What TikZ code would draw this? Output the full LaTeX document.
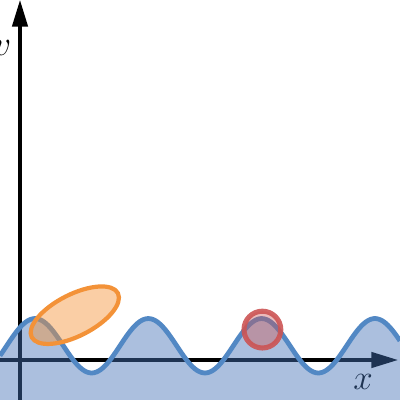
\documentclass[tikz,border=0pt]{standalone}
\usepackage{tikz}
\usetikzlibrary{arrows.meta}
\definecolor{azul}{RGB}{82,136,196}
\definecolor{azulfondo}{RGB}{68,114,182}
\definecolor{naranja}{RGB}{243,146,56}
\definecolor{rojo}{RGB}{204,84,84}

\begin{document}
\begin{tikzpicture}
  \useasboundingbox (-0.5,-1) rectangle (9.5,9);

  % Ejes
  \draw[line width=2.2pt,-{Triangle[length=19pt,width=11pt]}] (0,-1) -- (0,9);
  \draw[line width=2.2pt,-{Triangle[length=19pt,width=11pt]}] (-0.5,0) -- (9.45,0);

  % Etiquetas
  \node (ejev) at (-0.44,7.81) {\fontsize{25}{25}\selectfont$v$};
  \node (ejex) at (8.575,-0.55) {\fontsize{33}{33}\selectfont$x$};

  % Onda
  \fill[azulfondo,fill opacity=0.45] (-0.5,-1) -- plot[domain=-0.5:9.5,samples=200,smooth] (\x,{0.356+0.68*cos(360*(\x-0.375)/2.833)}) -- (9.5,-1) -- cycle;
  \draw[azul,line width=3.4pt] plot[domain=-0.5:9.5,samples=200,smooth] (\x,{0.356+0.68*cos(360*(\x-0.375)/2.833)});

  % Elipse
  \draw[naranja,line width=3pt,fill=naranja,fill opacity=0.45,rotate around={27:(1.37,1.12)}] (1.37,1.12) ellipse (1.21 and 0.52);

  % Circulo
  \draw[rojo,line width=3.6pt,draw opacity=0.9,fill=rojo,fill opacity=0.4] (6.06,0.76) circle (0.46);

\end{tikzpicture}
\end{document}
